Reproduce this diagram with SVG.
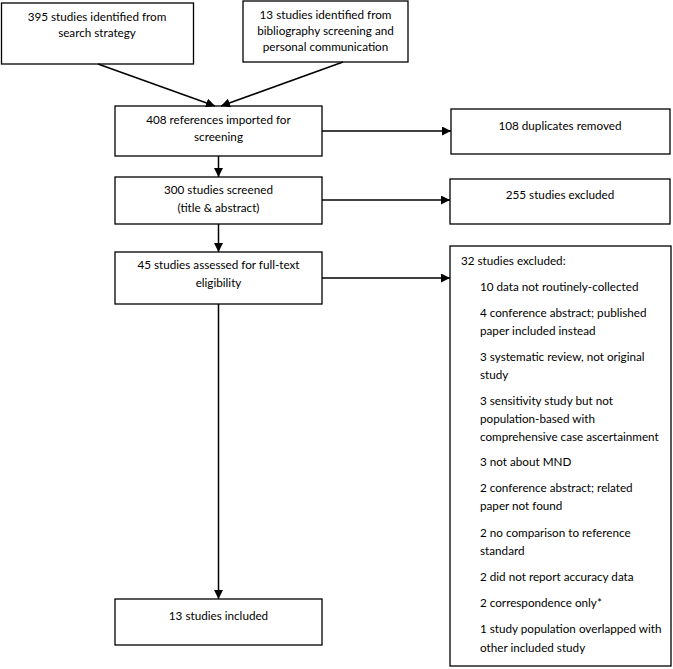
<svg xmlns="http://www.w3.org/2000/svg" width="673" height="669" viewBox="0 0 673 669">
<defs>
<marker id="ah" viewBox="0 0 10 10" refX="10" refY="5" markerWidth="9" markerHeight="9" markerUnits="userSpaceOnUse" orient="auto">
<path d="M0,0 L10,5 L0,10 z" fill="#000"/>
</marker>
<style>
.box{fill:#fff;stroke:#000;stroke-width:1.3}
text{font-family:Lato,"Open Sans","Liberation Sans",sans-serif;font-size:11.7px;fill:#000}
.c{text-anchor:middle}
.conn line{stroke:#000;stroke-width:1.5;marker-end:url(#ah)}
</style>
</defs>
<rect width="673" height="669" fill="#fff"/>
<g id="n1"><rect class="box" x="1.5" y="3" width="192" height="61"/>
<text class="c" x="97" y="21">395 studies identified from</text>
<text class="c" x="97" y="37">search strategy</text></g>
<g id="n2"><rect class="box" x="243" y="1" width="165" height="61"/>
<text class="c" x="325.5" y="19">13 studies identified from</text>
<text class="c" x="325.5" y="35">bibliography screening and</text>
<text class="c" x="325.5" y="51">personal communication</text></g>
<g id="n3"><rect class="box" x="115" y="106" width="207" height="50"/>
<text class="c" x="218.5" y="124">408 references imported for</text>
<text class="c" x="218.5" y="141">screening</text></g>
<g id="n4"><rect class="box" x="451" y="109" width="219" height="45"/>
<text class="c" x="560" y="130">108 duplicates removed</text></g>
<g id="n5"><rect class="box" x="115" y="177" width="207" height="47"/>
<text class="c" x="218.5" y="194">300 studies screened</text>
<text class="c" x="218.5" y="212">(title &amp; abstract)</text></g>
<g id="n6"><rect class="box" x="450" y="179" width="220" height="45"/>
<text class="c" x="560" y="199">255 studies excluded</text></g>
<g id="n7"><rect class="box" x="115" y="252" width="207" height="52"/>
<text class="c" x="218.5" y="269">45 studies assessed for full-text</text>
<text class="c" x="218.5" y="287">eligibility</text></g>
<g id="n8"><rect class="box" x="450" y="246" width="221" height="420"/>
<text x="461" y="265">32 studies excluded:</text>
<text x="480" y="291">10 data not routinely-collected</text>
<text x="480" y="317">4 conference abstract; published</text>
<text x="480" y="335">paper included instead</text>
<text x="480" y="361">3 systematic review, not original</text>
<text x="480" y="379">study</text>
<text x="480" y="405">3 sensitivity study but not</text>
<text x="480" y="423">population-based with</text>
<text x="480" y="441">comprehensive case ascertainment</text>
<text x="480" y="466">3 not about MND</text>
<text x="480" y="492">2 conference abstract; related</text>
<text x="480" y="510">paper not found</text>
<text x="480" y="537">2 no comparison to reference</text>
<text x="480" y="555">standard</text>
<text x="480" y="581">2 did not report accuracy data</text>
<text x="480" y="607">2 correspondence only*</text>
<text x="480" y="633">1 study population overlapped with</text>
<text x="480" y="652">other included study</text></g>
<g id="n9"><rect class="box" x="115" y="599" width="207" height="46"/>
<text class="c" x="218.5" y="620">13 studies included</text></g>
<g class="conn" id="connectors">
<line x1="98" y1="64" x2="215" y2="106"/>
<line x1="343" y1="62" x2="221" y2="106"/>
<line x1="322" y1="131" x2="451" y2="131"/>
<line x1="218.5" y1="156" x2="218.5" y2="177"/>
<line x1="322" y1="200" x2="450" y2="200"/>
<line x1="218.5" y1="224" x2="218.5" y2="252"/>
<line x1="322" y1="278" x2="450" y2="278"/>
<line x1="218.5" y1="304" x2="218.5" y2="599"/>
</g>
</svg>
